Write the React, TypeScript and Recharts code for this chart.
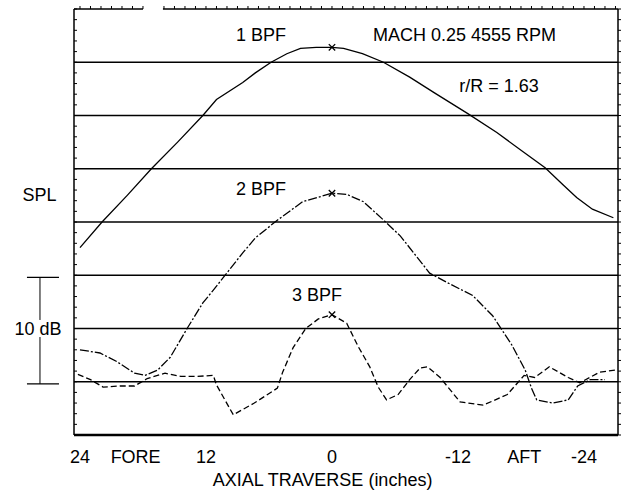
import React from 'react';
import {
  ComposedChart,
  Line,
  XAxis,
  YAxis,
  ReferenceLine,
  ReferenceDot,
  Scatter,
} from 'recharts';

// ---- Data (axial traverse in inches, SPL in dB relative) ----
const bpf1X = [24.0, 21.9, 19.5, 17.2, 14.7, 12.3, 11.0, 8.5, 7.3, 5.8, 4.3, 3.0, 1.5, 0, -1.1, -2.9, -4.9, -7.4, -9.8, -12.9, -15.7, -18.2, -20.3, -22.0, -23.3, -24.8, -26.8];
const bpf1Y = [17.6, 20.0, 22.5, 25.0, 27.5, 30.0, 31.5, 33.1, 34.0, 35.0, 35.8, 36.3, 36.4, 36.4, 36.3, 35.8, 35.0, 33.6, 32.1, 30.2, 28.4, 26.6, 25.1, 23.5, 22.3, 21.2, 20.4];

const bpf2X = [24.0, 22.1, 20.5, 18.8, 17.8, 16.6, 15.4, 13.8, 12.3, 11.3, 10.1, 8.5, 7.3, 5.3, 2.8, 0, -1.4, -3.0, -5.0, -6.5, -8.1, -9.3, -11.0, -13.4, -15.3, -17.1, -18.4, -19.0, -19.5, -21.0, -22.5, -23.4, -24.6, -26.0];
const bpf2Y = [8.0, 7.7, 6.9, 5.8, 5.6, 6.1, 7.3, 10.0, 12.4, 13.6, 15.1, 17.1, 18.5, 20.1, 21.9, 22.7, 22.6, 21.9, 20.1, 18.7, 16.7, 15.2, 14.3, 13.1, 11.2, 8.5, 6.1, 4.4, 3.3, 3.0, 3.3, 4.6, 5.2, 5.2];

const bpf3X = [24.2, 23.0, 21.8, 20.2, 18.8, 17.6, 15.9, 14.4, 12.9, 11.3, 11.0, 9.4, 7.4, 5.2, 4.7, 3.7, 2.5, 1.3, 0, -1.4, -2.5, -3.6, -4.4, -5.2, -6.3, -7.4, -8.4, -9.1, -10.3, -12.2, -14.4, -16.7, -18.3, -19.3, -20.7, -22.5, -23.6, -25.5, -27.0];
const bpf3Y = [5.7, 5.2, 4.5, 4.6, 4.6, 5.3, 5.8, 5.5, 5.5, 5.6, 4.7, 1.9, 3.0, 4.4, 5.9, 8.2, 10.0, 10.9, 11.3, 10.5, 8.3, 6.4, 4.5, 3.3, 3.8, 5.2, 6.3, 6.4, 5.4, 3.1, 2.8, 3.8, 5.6, 5.4, 6.4, 5.4, 4.9, 5.9, 6.1];

const peakX = [0, 0, 0];
const peakY = [36.4, 22.7, 11.3];

const xTickValues = [24, 18.7, 12, 0, -12, -18.3, -24];
const xTickLabels = ['24', 'FORE', '12', '0', '-12', 'AFT', '-24'];
const gridLevels = [5, 10, 15, 20, 25, 30, 35];
const minorYTicks = [0, 1, 2, 3, 4, 5, 6, 7, 8, 9, 10, 11, 12, 13, 14, 15, 16, 17, 18, 19, 20, 21, 22, 23, 24, 25, 26, 27, 28, 29, 30, 31, 32, 33, 34, 35, 36, 37, 38, 39, 40];
const minorXTicks = [24, 23, 22, 21, 20, 19, 18, 16, 15, 14, 13, 12, 11, 10, 9, 8, 7, 6, 5, 4, 3, 2, 1, 0, -1, -2, -3, -4, -5, -6, -7, -8, -9, -10, -11, -12, -13, -14, -15, -16, -17, -18, -19, -20, -21, -22, -23, -24, -25, -26, -27];

const annotations = [
  { text: '1 BPF', x: 6.76, y: 37.56 },
  { text: 'MACH 0.25 4555 RPM', x: -12.62, y: 37.6 },
  { text: 'r/R = 1.63', x: -15.9, y: 32.8 },
  { text: '2 BPF', x: 6.76, y: 23.15 },
  { text: '3 BPF', x: 1.43, y: 13.15 },
  { text: 'SPL', x: 27.86, y: 22.6 },
  { text: '10 dB', x: 28.0, y: 10.0 },
  { text: 'AXIAL TRAVERSE (inches)', x: 0.9, y: -4.18 },
];

const X_DOMAIN: [number, number] = [-27.24, 24.57];
const Y_DOMAIN: [number, number] = [0, 40];

const toPts = (xs: number[], ys: number[]) => xs.map((x, i) => ({ x, y: ys[i] }));
const s1 = toPts(bpf1X, bpf1Y);
const s2 = toPts(bpf2X, bpf2Y);
const s3 = toPts(bpf3X, bpf3Y);
const peaks = toPts(peakX, peakY);

const FONT = '"Liberation Sans", Arial, Helvetica, sans-serif';

const Cross = (props: any) => {
  const { cx, cy } = props;
  const d = 3.2;
  return (
    <path
      d={`M${cx - d},${cy - d}L${cx + d},${cy + d}M${cx - d},${cy + d}L${cx + d},${cy - d}`}
      stroke="#000"
      strokeWidth={1.3}
      fill="none"
    />
  );
};

export default function App() {
  return (
    <div style={{ position: 'absolute', left: 0, top: 0, width: 623, height: 495, background: '#fff' }}>
      <ComposedChart width={623} height={495} margin={{ top: 0, right: 0, bottom: 0, left: 74 }}>
        <XAxis
          xAxisId="b"
          dataKey="x"
          type="number"
          orientation="bottom"
          domain={X_DOMAIN}
          allowDataOverflow
          reversed
          height={60}
          ticks={xTickValues}
          interval={0}
          tickFormatter={(_v: number, i: number) => xTickLabels[i]}
          tickLine={false}
          tickSize={6}
          tickMargin={9}
          axisLine={{ stroke: '#000', strokeWidth: 2.5 }}
          tick={{ fill: '#000', fontSize: 18, fontFamily: FONT }}
        />
        <XAxis
          xAxisId="t"
          dataKey="x"
          type="number"
          orientation="top"
          domain={X_DOMAIN}
          allowDataOverflow
          reversed
          height={9}
          ticks={minorXTicks}
          interval={0}
          tickFormatter={() => ''}
          tickSize={3}
          tickMargin={0}
          axisLine={false}
          tickLine={{ stroke: '#000', strokeWidth: 1 }}
        />
        <YAxis
          yAxisId="l"
          dataKey="y"
          type="number"
          orientation="left"
          domain={Y_DOMAIN}
          allowDataOverflow
          mirror
          ticks={minorYTicks}
          interval={0}
          tickFormatter={() => ''}
          tickSize={3}
          tickMargin={0}
          axisLine={{ stroke: '#000', strokeWidth: 1.5 }}
          tickLine={{ stroke: '#000', strokeWidth: 1 }}
        />
        <YAxis
          yAxisId="r"
          dataKey="y"
          type="number"
          orientation="right"
          domain={Y_DOMAIN}
          allowDataOverflow
          width={5}
          ticks={minorYTicks}
          interval={0}
          tickFormatter={() => ''}
          tickSize={3}
          tickMargin={0}
          axisLine={{ stroke: '#000', strokeWidth: 1.5 }}
          tickLine={{ stroke: '#000', strokeWidth: 1 }}
        />

        {gridLevels.map((v) => (
          <ReferenceLine key={v} xAxisId="b" yAxisId="l" y={v} stroke="#000" strokeWidth={1.6} />
        ))}

        {/* top border (with gap) */}
        <ReferenceLine
          xAxisId="b"
          yAxisId="l"
          ifOverflow="visible"
          segment={[{ x: 24.57, y: 40 }, { x: 18.0, y: 40 }]}
          stroke="#000"
          strokeWidth={1.5}
        />
        <ReferenceLine
          xAxisId="b"
          yAxisId="l"
          ifOverflow="visible"
          segment={[{ x: 16.1, y: 40 }, { x: -27.24, y: 40 }]}
          stroke="#000"
          strokeWidth={1.5}
        />

        {/* 10 dB scale bar */}
        <ReferenceLine xAxisId="b" yAxisId="l" ifOverflow="visible" segment={[{ x: 27.81, y: 14.8 }, { x: 27.81, y: 10.8 }]} stroke="#000" strokeWidth={1} />
        <ReferenceLine xAxisId="b" yAxisId="l" ifOverflow="visible" segment={[{ x: 27.81, y: 9.2 }, { x: 27.81, y: 4.8 }]} stroke="#000" strokeWidth={1} />
        <ReferenceLine xAxisId="b" yAxisId="l" ifOverflow="visible" segment={[{ x: 29.05, y: 14.8 }, { x: 26.0, y: 14.8 }]} stroke="#000" strokeWidth={1.2} />
        <ReferenceLine xAxisId="b" yAxisId="l" ifOverflow="visible" segment={[{ x: 29.05, y: 4.8 }, { x: 26.0, y: 4.8 }]} stroke="#000" strokeWidth={1.2} />

        <Line
          xAxisId="b"
          yAxisId="l"
          data={s1}
          dataKey="y"
          type="linear"
          stroke="#000"
          strokeWidth={1.3}
          dot={false}
          isAnimationActive={false}
        />
        <Line
          xAxisId="b"
          yAxisId="l"
          data={s2}
          dataKey="y"
          type="linear"
          stroke="#000"
          strokeWidth={1.3}
          strokeDasharray="9 2 2 2"
          dot={false}
          isAnimationActive={false}
        />
        <Line
          xAxisId="b"
          yAxisId="l"
          data={s3}
          dataKey="y"
          type="linear"
          stroke="#000"
          strokeWidth={1.3}
          strokeDasharray="6 3"
          dot={false}
          isAnimationActive={false}
        />
        <Scatter xAxisId="b" yAxisId="l" data={peaks} dataKey="y" shape={<Cross />} isAnimationActive={false} />

        {annotations.map((a) => (
          <ReferenceDot
            key={a.text}
            xAxisId="b"
            yAxisId="l"
            x={a.x}
            y={a.y}
            r={0}
            ifOverflow="visible"
            fill="none"
            stroke="none"
            label={{ value: a.text, position: 'center', fill: '#000', fontSize: 18, fontFamily: FONT }}
          />
        ))}
      </ComposedChart>
    </div>
  );
}
